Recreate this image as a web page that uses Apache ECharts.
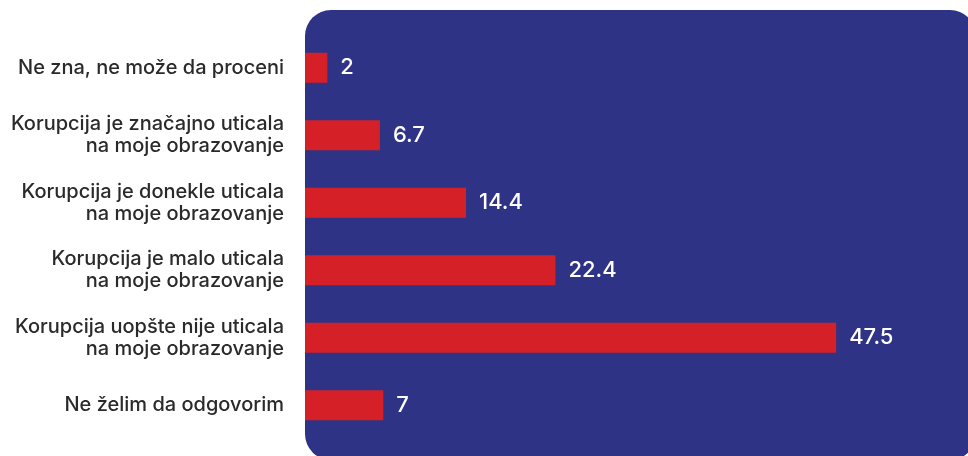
<!DOCTYPE html>
<html>
<head>
<meta charset="utf-8">
<style>
html,body{margin:0;padding:0;background:#fff;}
#main{width:968px;height:456px;}
</style>
<script src="https://cdn.jsdelivr.net/npm/echarts@6/dist/echarts.min.js"></script>
</head>
<body>
<div id="main"></div>
<script>
const categories = [
  "Ne zna, ne može da proceni",
  "Korupcija je značajno uticala\nna moje obrazovanje",
  "Korupcija je donekle uticala\nna moje obrazovanje",
  "Korupcija je malo uticala\nna moje obrazovanje",
  "Korupcija uopšte nije uticala\nna moje obrazovanje",
  "Ne želim da odgovorim"
];
const values = [2, 6.7, 14.4, 22.4, 47.5, 7];

const chart = echarts.init(document.getElementById('main'));
chart.setOption({
  animation: false,
  backgroundColor: '#ffffff',
  graphic: [{
    type: 'rect',
    z: -10,
    silent: true,
    shape: { x: 305, y: 10, width: 671, height: 450, r: 26 },
    style: { fill: '#2e3386' }
  }],
  grid: { left: 305, right: 48, top: 34, bottom: 17, containLabel: false },
  xAxis: {
    type: 'value', min: 0, max: 55,
    show: false
  },
  yAxis: {
    type: 'category',
    inverse: true,
    data: categories,
    axisLine: { show: false },
    axisTick: { show: false },
    splitLine: { show: false },
    axisLabel: {
      margin: 21,
      color: '#2a2a2a',
      fontFamily: 'Inter',
      fontSize: 20,
      fontWeight: 500,
      lineHeight: 22,
      align: 'right'
    }
  },
  series: [{
    type: 'bar',
    data: values,
    barWidth: 30,
    itemStyle: { color: '#d52027' },
    label: {
      show: true,
      position: 'right',
      distance: 13,
      color: '#ffffff',
      fontFamily: 'Inter',
      fontSize: 22,
      fontWeight: 500
    }
  }]
});
</script>
</body>
</html>
